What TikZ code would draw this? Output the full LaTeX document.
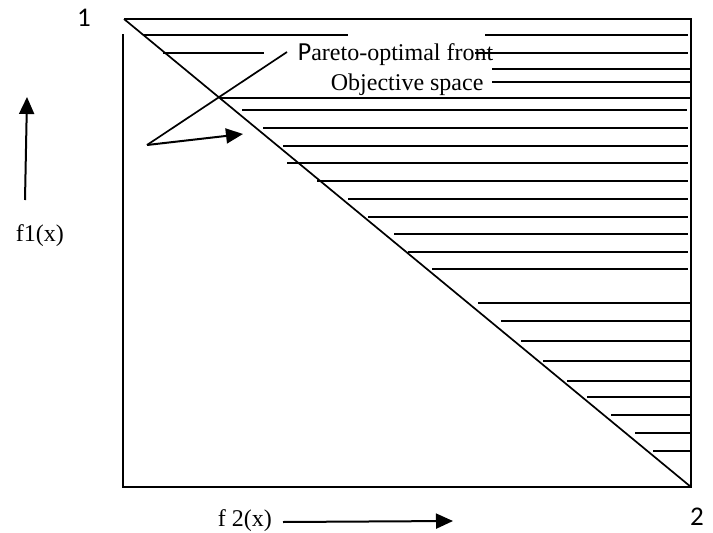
\documentclass[tikz,border=0pt]{standalone}
\usepackage{fontspec}
\setmainfont{Liberation Serif}
\newfontfamily\calibri{Carlito}
\usetikzlibrary{arrows.meta}

\begin{document}
\begin{tikzpicture}[x=1pt, y=-1pt, line width=1.7pt,
    hatch/.style={line width=1.8pt},
    arr/.style={line width=2pt, -{Triangle[length=17pt,width=15pt]}},
    lbl/.style={inner sep=0pt, font=\fontsize{24}{24}\selectfont},
    num/.style={inner sep=0pt, font=\calibri\fontsize{27}{27}\selectfont}]
  \useasboundingbox (0,0) rectangle (713,533);

  % objective box and the front
  \coordinate (tl) at (124,19);
  \coordinate (tr) at (691,19);
  \coordinate (br) at (691,487);
  \coordinate (bl) at (123,487);
  \coordinate (lt) at (123,34);
  \draw (tl) -- (tr) -- (br) -- (bl) -- (lt);
  \draw (tl) -- (br);

  % hatching of the objective space
  \foreach \y/\xa/\xb in {35/143/348, 35/485/688, 53/163/264, 53/475/688,
      69/492/691, 82/492/691, 98/220/691, 110/242/687, 128/263/688,
      146/283/688, 163/287/688, 181/317/688, 199/348/688, 217/368/688,
      234/394/688, 252/408/688, 269/432/688, 303/478/691, 321/501/691,
      341/521/691, 361/543/691, 381/567/691, 397/587/691, 415/611/691,
      433/635/691, 451/653/691}
    \draw[hatch] (\xa,\y) -- (\xb,\y);

  % labels
  \node[num] (one) at (84,18) {1};
  \node[num] (two) at (697,517) {2};
  \node[lbl, anchor=base west] (pareto) at (297,60)
    {{\calibri\fontsize{26}{26}\selectfont P}areto-optimal front};
  \node[lbl, anchor=base west] (objsp) at (330,90) {Objective space};
  \node[lbl, anchor=base west] (fone) at (15,241) {f1(x)};
  \node[lbl, anchor=base west] (ftwo) at (217,526) {f 2(x)};

  % pointers
  \coordinate (vtx) at (147,145);
  \coordinate (frontend) at (287,52);
  \coordinate (fronttip) at (243,134);
  \draw (vtx) -- (frontend);
  \draw[arr] (vtx) -- (fronttip);

  % axis arrows
  \coordinate (fonea) at (25,200);
  \coordinate (foneb) at (27,97);
  \draw[arr] (fonea) -- (foneb);
  \coordinate (ftwoa) at (283,522);
  \coordinate (ftwob) at (453,521);
  \draw[arr] (ftwoa) -- (ftwob);
\end{tikzpicture}
\end{document}
